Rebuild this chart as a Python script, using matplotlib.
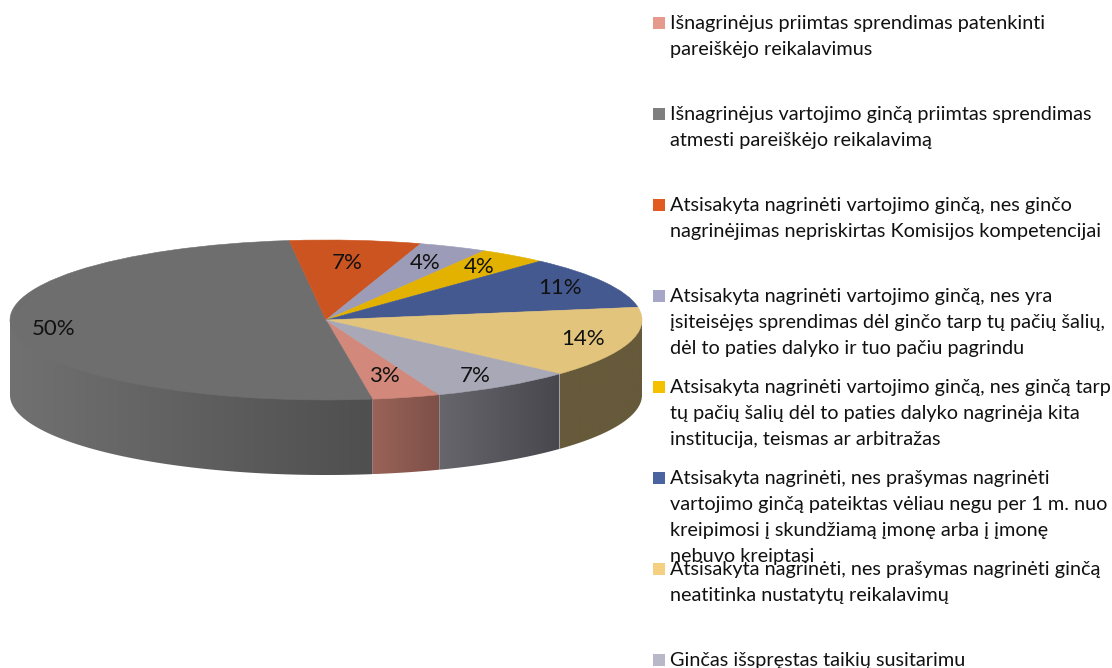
#!/usr/bin/python3
import numpy as np
import matplotlib
matplotlib.use('Agg')
import matplotlib.pyplot as plt
from matplotlib.colors import LinearSegmentedColormap
from matplotlib.patches import Polygon, Rectangle

plt.rcParams['font.family'] = ['Lato', 'Open Sans', 'DejaVu Sans']

categories = [
    ["Išnagrinėjus priimtas sprendimas patenkinti",
     "pareiškėjo reikalavimus"],
    ["Išnagrinėjus vartojimo ginčą priimtas sprendimas",
     "atmesti pareiškėjo reikalavimą"],
    ["Atsisakyta nagrinėti vartojimo ginčą, nes ginčo",
     "nagrinėjimas nepriskirtas Komisijos kompetencijai"],
    ["Atsisakyta nagrinėti vartojimo ginčą, nes yra",
     "įsiteisėjęs sprendimas dėl ginčo tarp tų pačių šalių,",
     "dėl to paties dalyko ir tuo pačiu pagrindu"],
    ["Atsisakyta nagrinėti vartojimo ginčą, nes ginčą tarp",
     "tų pačių šalių dėl to paties dalyko nagrinėja kita",
     "institucija, teismas ar arbitražas"],
    ["Atsisakyta nagrinėti, nes prašymas nagrinėti",
     "vartojimo ginčą pateiktas vėliau negu per 1 m. nuo",
     "kreipimosi į skundžiamą įmonę arba į įmonę",
     "nebuvo kreiptasi"],
    ["Atsisakyta nagrinėti, nes prašymas nagrinėti ginčą",
     "neatitinka nustatytų reikalavimų"],
    ["Ginčas išspręstas taikių susitarimu"],
]
values = [3.49, 50.49, 6.7, 3.5, 3.5, 10.6, 14.32, 7.4]

top_colors = ['#d2897b', '#6e6e6e', '#cc5420', '#9c9cb8',
              '#e3b200', '#44598f', '#e3c47c', '#a8a8b6']
legend_colors = ['#e6998d', '#7f7f7f', '#e15a22', '#a6a6c8',
                 '#f5c000', '#4a64a2', '#f5d080', '#b8b8c8']
side_colors = [('#9a6359', '#7e5048'), ('#717171', '#4f4f4f'),
               ('#a04018', '#a04018'), ('#77778c', '#77778c'),
               ('#a88400', '#a88400'), ('#33426a', '#33426a'),
               ('#665a3b', '#665a3b'), ('#66666c', '#48474d')]
label_radius = [0.73, 0.87, 0.72, 0.78, 0.82, 0.84, 0.85, 0.84]

W, H = 1112, 668
CX, CY, RX, RY = 326, 320, 316, 80
DEPTH = 75 / RY

fig = plt.figure(figsize=(W / 100, H / 100), dpi=100)
ax = fig.add_axes([0, 0, 1, 1])

wedges, texts, pcts = ax.pie(values, startangle=-69, counterclock=False,
                             colors=top_colors, autopct='%.0f%%',
                             textprops={'fontsize': 16, 'color': '#111111'})
for wedge in wedges:
    wedge.set_edgecolor(wedge.get_facecolor())
    wedge.set_linewidth(0.4)

# the rim, only the part of each slice that faces the viewer
for wedge, (left, right) in zip(wedges, side_colors):
    t = np.radians(np.linspace(wedge.theta1, wedge.theta2, 600))
    t = t[np.sin(t) <= 0]
    if len(t) == 0:
        continue
    t = t[np.argsort(np.cos(t))]
    x, y = np.cos(t), np.sin(t)
    # top of the rim goes a bit under the slice so no white seam shows
    verts = np.r_[np.c_[x, y + 0.05], np.c_[x, y - DEPTH][::-1]]
    cmap = LinearSegmentedColormap.from_list('side', [left, right])
    im = ax.imshow(np.linspace(0, 1, 128).reshape(1, -1), cmap=cmap, aspect='auto',
                   extent=(x.min(), x.max(), y.min() - DEPTH, y.max() + 0.05), zorder=0.5)
    im.set_clip_path(Polygon(verts, transform=ax.transData))

for wedge, pct, r in zip(wedges, pcts, label_radius):
    mid = np.radians((wedge.theta1 + wedge.theta2) / 2)
    pct.set_position((r * np.cos(mid), r * np.sin(mid)))

ax.set_aspect('auto')
ax.set_xlim(-CX / RX, (W - CX) / RX)
ax.set_ylim((CY - H) / RY, CY / RY)
ax.axis('off')

# legend on a fixed pitch, the long entry runs into the next one
for i, (lines, color) in enumerate(zip(categories, legend_colors)):
    yc = 23 + 91 * i
    fig.add_artist(Rectangle((653 / W, 1 - (yc + 6) / H), 12 / W, 12 / H,
                             transform=fig.transFigure, color=color, linewidth=0))
    for j, line in enumerate(lines):
        fig.text(670 / W, 1 - (yc + 6 + 26 * j) / H, line, fontsize=14.3,
                 color='#111111', va='baseline', ha='left')

fig.savefig('out.png', dpi=100, facecolor='white')
